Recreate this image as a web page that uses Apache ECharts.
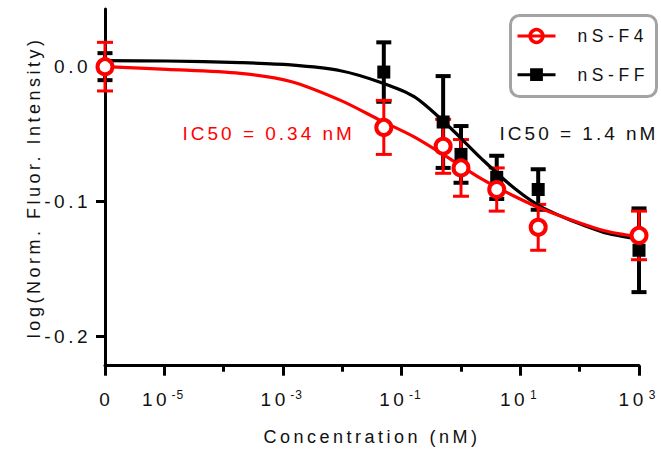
<!DOCTYPE html>
<html><head><meta charset="utf-8">
<script src="https://cdn.jsdelivr.net/npm/echarts@6/dist/echarts.min.js"></script>
<style>html,body{margin:0;padding:0;background:#fff}#c{width:661px;height:453px}</style>
</head><body><div id="c"></div>
<script>
// ---- data ----
const concentrations = [0, 0.05, 0.5, 1, 4, 20, 1000];           // nM (0 drawn at the axis "0" position)
const f4Values = [0.000, -0.045, -0.059, -0.075, -0.091, -0.119, -0.125];
const f4Errors = [0.018, 0.020, 0.020, 0.021, 0.016, 0.017, 0.018];
const ffValues = [0.000, -0.004, -0.041, -0.065, -0.082, -0.091, -0.136];
const ffErrors = [0.010, 0.022, 0.034, 0.021, 0.016, 0.015, 0.031];
// fitted curves (x = log10 nM)
const fitLogConc = [-6, -4.96, -3.72, -2.87, -2.03, -1.35, -0.79, -0.23, 0.34, 0.90, 1.40, 2.37, 3];
const f4Fit = [0.000, -0.002, -0.005, -0.011, -0.025, -0.040, -0.052, -0.067, -0.083, -0.096, -0.106, -0.121, -0.126];
const ffFit = [0.0044, 0.0042, 0.0030, 0.0013, -0.0030, -0.0117, -0.0222, -0.0432, -0.0679, -0.0901, -0.1050, -0.1222, -0.1276];
const xTickExps = [-6, -5, -3, -1, 1, 3];   // -6 is labelled "0"
const xMinorExps = [-4, -2, 0, 2];
const yTicks = [0, -0.1, -0.2];
const seriesNames = ['nS-F4', 'nS-FF'];
const ic50Labels = ['IC50 = 0.34 nM', 'IC50 = 1.4 nM'];
const xTitle = 'Concentration (nM)';
const yTitle = 'log(Norm. Fluor. Intensity)';
const ZERO_POS = -6;

const RED = '#ff0000', BLACK = '#000000', TXT = '#111111';
const FONT = '"Liberation Sans", Arial, sans-serif';
const toX = c => c === 0 ? ZERO_POS : Math.log10(c);

function errorBars(name, values, errors, color, capHalf, lw) {
  return {
    type: 'custom', name: name, silent: true,
    data: concentrations.map((c, i) => [toX(c), values[i], errors[i]]),
    encode: { x: 0, y: 1 },
    renderItem: (params, api) => {
      const x = api.value(0), y = api.value(1), e = api.value(2);
      const t = api.coord([x, y + e]), b = api.coord([x, y - e]);
      const st = { stroke: color, lineWidth: lw, fill: null };
      return { type: 'group', children: [
        { type: 'line', shape: { x1: t[0], y1: t[1], x2: b[0], y2: b[1] }, style: st },
        { type: 'line', shape: { x1: t[0] - capHalf, y1: t[1], x2: t[0] + capHalf, y2: t[1] }, style: st },
        { type: 'line', shape: { x1: b[0] - capHalf, y1: b[1], x2: b[0] + capHalf, y2: b[1] }, style: st }
      ]};
    }
  };
}

const chart = echarts.init(document.getElementById('c'), null, { renderer: 'svg' });

const commonX = {
  type: 'value', min: -6, max: 3, position: 'bottom',
  splitLine: { show: false }, nameMoveOverlap: false
};

const option = {
  animation: false,
  backgroundColor: '#fff',
  textStyle: { fontFamily: FONT },
  grid: { left: 105, right: 22, top: 9, bottom: 87.3, containLabel: false, outerBoundsMode: 'none' },
  xAxis: [
    Object.assign({}, commonX, {
      axisLine: { show: true, onZero: false, lineStyle: { color: BLACK, width: 3 } },
      axisTick: { show: true, customValues: xTickExps, length: 10, lineStyle: { color: BLACK, width: 3 } },
      axisLabel: {
        show: true, customValues: xTickExps, margin: 23,
        formatter: v => v === ZERO_POS ? '{z|0}' : '{b|10}{s|' + v + '}',
        rich: {
          z: { fontSize: 19, lineHeight: 22, color: TXT, fontFamily: FONT },
          b: { fontSize: 19, lineHeight: 22, color: TXT, fontFamily: FONT, padding: [0, 6, 0, 0] },
          s: { fontSize: 12, lineHeight: 12, color: TXT, fontFamily: FONT, verticalAlign: 'top' }
        }
      },
      name: xTitle, nameLocation: 'middle', nameGap: 62,
      nameTextStyle: { fontSize: 18, color: TXT, fontFamily: FONT }
    }),
    Object.assign({}, commonX, {
      axisLine: { show: false, onZero: false },
      axisTick: { show: true, customValues: xMinorExps, length: 6, lineStyle: { color: BLACK, width: 3 } },
      axisLabel: { show: false }
    })
  ],
  yAxis: {
    type: 'value', min: -0.2215, max: 0.0427, nameMoveOverlap: false,
    axisLine: { show: true, onZero: false, lineStyle: { color: BLACK, width: 3 } },
    axisTick: { show: true, customValues: yTicks, length: 9, lineStyle: { color: BLACK, width: 3 } },
    axisLabel: { show: true, customValues: yTicks, formatter: v => v.toFixed(1), fontSize: 19, color: TXT, margin: 14, fontFamily: FONT },
    splitLine: { show: false },
    name: yTitle, nameLocation: 'middle', nameGap: 62, nameRotate: 90,
    nameTextStyle: { fontSize: 18, color: TXT, fontFamily: FONT }
  },
  legend: {
    orient: 'vertical', left: 516, top: 27, padding: 0,
    itemWidth: 38, itemHeight: 16, itemGap: 20.7, selectedMode: false,
    textStyle: { fontSize: 17.5, color: TXT, fontFamily: FONT, padding: [0, 0, 0, 17] },
    data: [
      { name: seriesNames[0], itemStyle: { color: 'rgba(255,255,255,0)', borderColor: RED, borderWidth: 3.5 }, lineStyle: { color: RED, width: 3, opacity: 1 } },
      { name: seriesNames[1], itemStyle: { color: BLACK, borderWidth: 0 }, lineStyle: { color: BLACK, width: 3, opacity: 1 } }
    ]
  },
  graphic: [
    { type: 'rect', silent: true, shape: { x: 510.5, y: 15.5, width: 146, height: 81, r: 9 },
      style: { fill: 'none', stroke: '#a3a3a3', lineWidth: 3 }, z: 1 },
    { type: 'text', silent: true, x: 268.7, y: 133.5,
      style: { text: ic50Labels[0], fill: RED, font: '19px ' + FONT, align: 'center', verticalAlign: 'middle', textAlign: 'center', textVerticalAlign: 'middle' } },
    { type: 'text', silent: true, x: 579, y: 133.5,
      style: { text: ic50Labels[1], fill: TXT, font: '19px ' + FONT, align: 'center', verticalAlign: 'middle', textAlign: 'center', textVerticalAlign: 'middle' } }
  ],
  series: [
    { type: 'line', name: seriesNames[1] + ' fit', silent: true, smooth: 0.3, symbol: 'none',
      data: fitLogConc.map((x, i) => [x, ffFit[i]]), lineStyle: { color: BLACK, width: 3.2 } },
    { type: 'line', name: seriesNames[0] + ' fit', silent: true, smooth: 0.3, symbol: 'none',
      data: fitLogConc.map((x, i) => [x, f4Fit[i]]), lineStyle: { color: RED, width: 3.2 } },
    errorBars(seriesNames[1] + ' SD', ffValues, ffErrors, BLACK, 7.5, 4),
    { type: 'line', name: seriesNames[1], silent: true, symbol: 'rect', symbolSize: 13,
      data: concentrations.map((c, i) => [toX(c), ffValues[i]]),
      itemStyle: { color: BLACK, borderWidth: 0 }, lineStyle: { color: BLACK, opacity: 0 } },
    errorBars(seriesNames[0] + ' SD', f4Values, f4Errors, RED, 8, 3),
    { type: 'line', name: seriesNames[0], silent: true, symbol: 'circle', symbolSize: 15,
      data: concentrations.map((c, i) => [toX(c), f4Values[i]]),
      itemStyle: { color: '#ffffff', borderColor: RED, borderWidth: 4 }, lineStyle: { color: RED, opacity: 0 } },
    { type: 'scatter', name: seriesNames[1] + ' at 0', silent: true, symbol: 'circle', symbolSize: 8,
      data: [[toX(concentrations[0]), ffValues[0]]], itemStyle: { color: BLACK } }
  ]
};
chart.setOption(option);

function applySpacing() {
  const svg = document.querySelector('#c svg');
  if (!svg) return;
  svg.querySelectorAll('text').forEach(t => {
    const s = t.textContent;
    let ls = 3.5;
    if (seriesNames.includes(s)) ls = 4.6;
    else if (ic50Labels.includes(s)) ls = 3;
    else if (/^-?\d$/.test(s)) ls = 1;
    t.style.letterSpacing = ls + 'px';
  });
}
applySpacing();
chart.on('finished', applySpacing);
chart.on('rendered', applySpacing);
</script>
</body></html>
